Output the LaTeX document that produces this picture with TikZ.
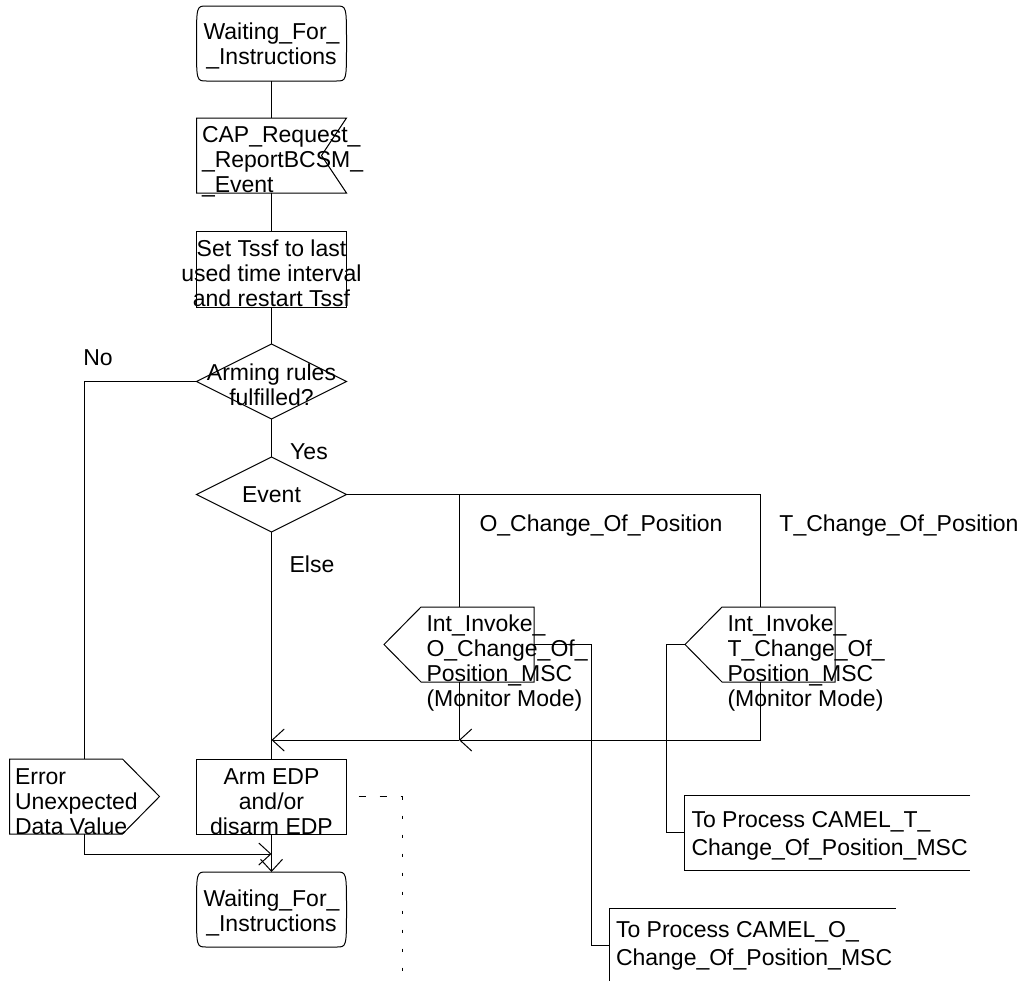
\documentclass[tikz,border=0pt]{standalone}
\usepackage{fontspec}
\setmainfont{Liberation Sans}
\usetikzlibrary{arrows.meta, positioning, shapes.geometric}

\begin{document}
\begin{tikzpicture}[
  x=0.5pt, y=-0.5pt, line width=0.5pt,
  font=\fontsize{11.5}{12.5}\selectfont,
  sdl/.style={minimum width=75pt, minimum height=37.5pt, inner sep=0pt, outer sep=0pt},
  box/.style={sdl, draw},
  dec/.style={sdl, draw, diamond},
  cmt/.style={inner sep=0pt, outer sep=0pt, minimum width=143pt, minimum height=37.5pt},
  txt/.style={inner sep=0pt, align=left, anchor=west},
  ctxt/.style={inner sep=0pt, align=center},
  arr/.style={-{Straight Barb[length=6pt,width=11pt]}},
  dashcmt/.style={dash pattern=on 3.5pt off 7pt}
]
  \useasboundingbox (0,0) rectangle (1026,980);

  % main column
  \node[sdl] (wait1) at (271.5,43.5)
    {}; \node[ctxt, yshift=-1pt] (wait1t) at (wait1) {Waiting\_For\_\\\_Instructions};
  \node[sdl, below=18.5pt of wait1] (inp) {};
  \node[txt, xshift=2.5pt, yshift=-3pt] (inpt) at (inp.west) {CAP\_Request\_\\\_ReportBCSM\_\\\_Event};
  \node[box, below=19pt of inp, minimum height=38pt] (task) {};
  \node[ctxt, yshift=-2pt] (taskt) at (task) {Set Tssf to last\\used time interval\\and restart Tssf};
  \node[dec, below=18.5pt of task] (arm) {};
  \node[ctxt, yshift=-1.5pt] (armt) at (arm) {Arming rules\\fulfilled?};
  \node[dec, below=19pt of arm] (event) {};
  \node[ctxt] (eventt) at (event) {Event};

  % outputs
  \node[sdl] (oout) at (459,644.5) {};
  \node[txt, xshift=21pt, yshift=-9.5pt] (ooutt) at (oout.west)
    {Int\_Invoke\_\\O\_Change\_Of\_\\Position\_MSC\\(Monitor Mode)};
  \node[sdl, right=75.5pt of oout] (tout) {};
  \node[txt, xshift=21pt, yshift=-9.5pt] (toutt) at (tout.west)
    {Int\_Invoke\_\\T\_Change\_Of\_\\Position\_MSC\\(Monitor Mode)};

  \node[box, below=113.5pt of event] (armedp) {};
  \node[ctxt, yshift=-2.5pt] (armedpt) at (armedp) {Arm EDP\\and/or\\disarm EDP};
  \node[sdl, below=19pt of armedp] (wait2) {};
  \node[ctxt, yshift=-1.5pt] (wait2t) at (wait2) {Waiting\_For\_\\\_Instructions};
  \node[sdl, left=18.5pt of armedp] (err) {};
  \node[txt, xshift=2.5pt, yshift=-2.5pt] (errt) at (err.west) {Error\\Unexpected\\Data Value};

  % comments
  \node[cmt] (cmtT) at (827,832.5) {};
  \node[txt, xshift=3.5pt, yshift=-1.75pt, font=\fontsize{11.5}{14}\selectfont] (cmtTt) at (cmtT.west)
    {To Process CAMEL\_T\_\\Change\_Of\_Position\_MSC};
  \node[cmt] (cmtO) at (752.5,945.5) {};
  \node[txt, xshift=3pt, font=\fontsize{11.5}{14}\selectfont] (cmtOt) at (cmtO.west)
    {To Process CAMEL\_O\_\\Change\_Of\_Position\_MSC};

  % outlines
  \foreach \s in {wait1,wait2}
    \draw ([xshift=5pt]\s.north west) -- ([xshift=-5pt]\s.north east)
      .. controls (\s.north east) .. (\s.east)
      .. controls (\s.south east) .. ([xshift=-5pt]\s.south east)
      -- ([xshift=5pt]\s.south west)
      .. controls (\s.south west) .. (\s.west)
      .. controls (\s.north west) .. ([xshift=5pt]\s.north west) -- cycle;
  \draw (inp.north west) -- (inp.north east) -- ([xshift=-12.5pt]inp.east)
    -- (inp.south east) -- (inp.south west) -- cycle;
  \foreach \s in {oout,tout}
    \draw (\s.west) -- ([xshift=18.5pt]\s.north west) -- (\s.north east)
      -- (\s.south east) -- ([xshift=18.5pt]\s.south west) -- cycle;
  \draw (err.north west) -- ([xshift=-18.5pt]err.north east) -- (err.east)
    -- ([xshift=-18.5pt]err.south east) -- (err.south west) -- cycle;
  \foreach \s in {cmtT,cmtO}
    \draw (\s.north east) -- (\s.north west) -- (\s.south west) -- (\s.south east);

  % flow lines
  \draw (wait1) -- (inp);
  \draw (inp) -- (task);
  \draw (task) -- (arm);
  \draw (arm) -- (event);
  \draw (arm.west) -| (err.north);
  \draw (event.east) -| (tout.north);
  \draw (oout.north) -- (oout.north |- event.east);
  \draw (event.south) -- (armedp.north);
  \coordinate (joinA) at ([yshift=9.5pt]armedp.north);
  \coordinate (joinO) at (oout.south |- joinA);
  \draw[arr] (tout.south) |- (joinO);
  \draw (oout.south) -- (joinO);
  \draw[arr] (joinO) -- (joinA);
  \draw[arr] (armedp) -- (wait2);
  \coordinate (joinE) at ([yshift=-10pt]armedp.south);
  \draw[arr] (err.south) |- (joinE);
  \draw (oout.east) -- ++(57,0) |- (cmtO.west);
  \draw (tout.west) -- ++(-19,0) |- (cmtT.west);
  \draw[dashcmt] ([xshift=6pt]armedp.east) -- ++(44,0) coordinate (cmtA);
  \draw[dash pattern=on 1.5pt off 8pt] (cmtA) -- ++(0,200);

  % branch labels
  \node (lblNo) at (98,358) {No};
  \node (lblYes) at (309,452) {Yes};
  \node (lblElse) at (312,564) {Else};
  \node (lblO) at (601,526) {O\_Change\_Of\_Position};
  \node (lblT) at (899,526) {T\_Change\_Of\_Position};
\end{tikzpicture}
\end{document}
